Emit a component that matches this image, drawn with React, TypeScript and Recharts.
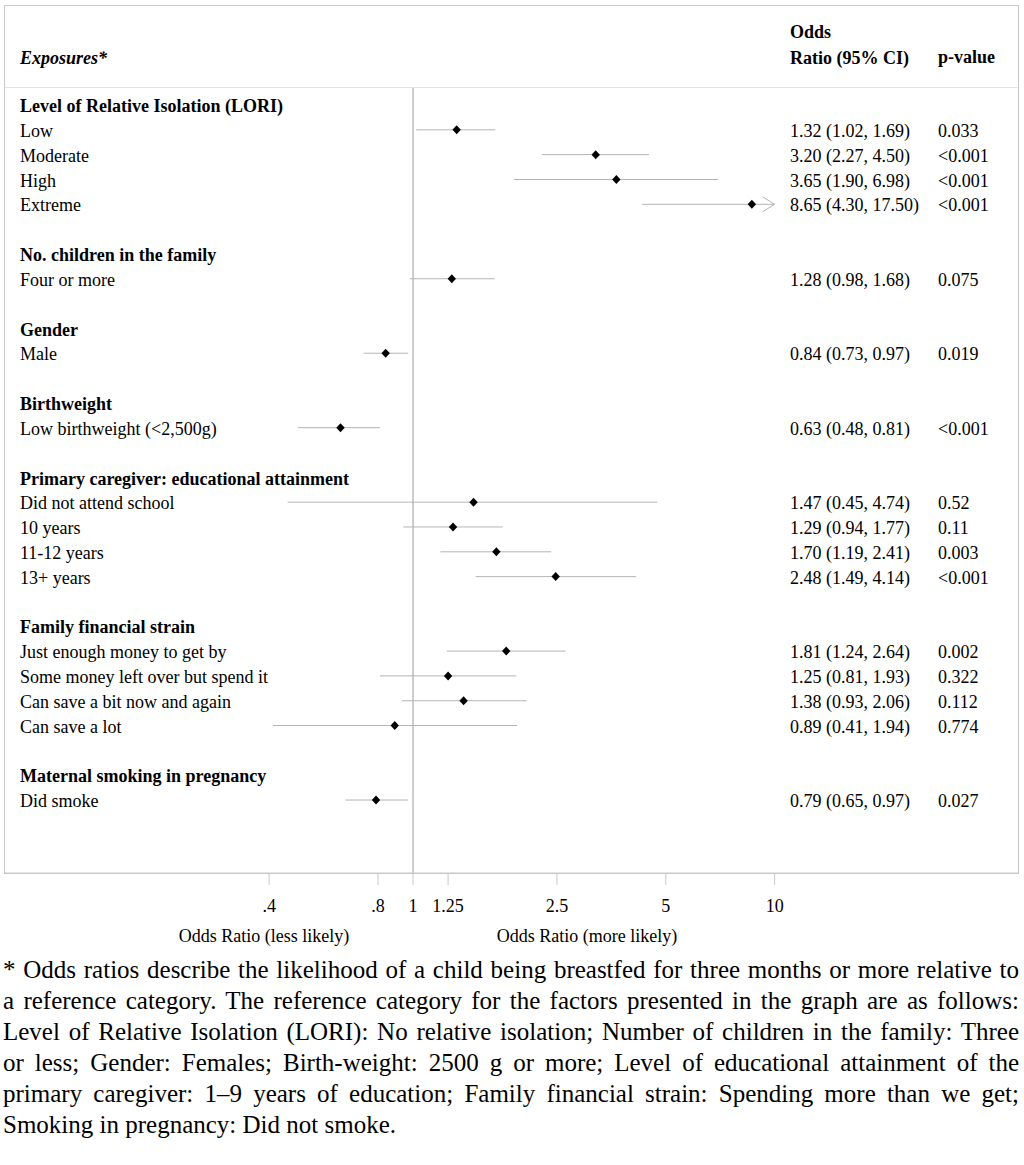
import React from 'react';
import { ComposedChart, Scatter, XAxis, YAxis, ErrorBar, ReferenceLine } from 'recharts';

// ---------- data ----------
const rowLabels = [
  'Level of Relative Isolation (LORI)', 'Low', 'Moderate', 'High', 'Extreme', '',
  'No. children in the family', 'Four or more', '',
  'Gender', 'Male', '',
  'Birthweight', 'Low birthweight (<2,500g)', '',
  'Primary caregiver: educational attainment', 'Did not attend school', '10 years', '11-12 years', '13+ years', '',
  'Family financial strain', 'Just enough money to get by', 'Some money left over but spend it',
  'Can save a bit now and again', 'Can save a lot', '',
  'Maternal smoking in pregnancy', 'Did smoke',
];
const headerRows = [0, 6, 9, 12, 15, 21, 27];
const estimateRows = [1, 2, 3, 4, 7, 10, 13, 16, 17, 18, 19, 22, 23, 24, 25, 28];
const oddsRatios = [1.32, 3.2, 3.65, 8.65, 1.28, 0.84, 0.63, 1.47, 1.29, 1.7, 2.48, 1.81, 1.25, 1.38, 0.89, 0.79];
const ciLower = [1.02, 2.27, 1.9, 4.3, 0.98, 0.73, 0.48, 0.45, 0.94, 1.19, 1.49, 1.24, 0.81, 0.93, 0.41, 0.65];
const ciUpper = [1.69, 4.5, 6.98, 17.5, 1.68, 0.97, 0.81, 4.74, 1.77, 2.41, 4.14, 2.64, 1.93, 2.06, 1.94, 0.97];
const pValues = ['0.033', '<0.001', '<0.001', '<0.001', '0.075', '0.019', '<0.001', '0.52', '0.11', '0.003', '<0.001', '0.002', '0.322', '0.112', '0.774', '0.027'];
const xTicks = [0.4, 0.8, 1, 1.25, 2.5, 5, 10];
const xTickLabels = ['.4', '.8', '1', '1.25', '2.5', '5', '10'];
const xDomain = [0.0744, 47.1];
const ciDisplayMax = 10;
const yDomain = [-0.685, 30.94];

const footnoteLines = [
  '* Odds ratios describe the likelihood of a child being breastfed for three months or more relative to',
  'a reference category. The reference category for the factors presented in the graph are as follows:',
  'Level of Relative Isolation (LORI): No relative isolation; Number of children in the family: Three',
  'or less; Gender: Females; Birth-weight: 2500 g or more; Level of educational attainment of the',
  'primary caregiver: 1–9 years of education; Family financial strain: Spending more than we get;',
  'Smoking in pregnancy: Did not smoke.',
];

// ---------- derived ----------
const pointData = estimateRows.map((row, i) => ({
  row,
  or: oddsRatios[i],
  err: [oddsRatios[i] - ciLower[i], Math.min(ciUpper[i], ciDisplayMax) - oddsRatios[i]],
}));
const arrowData = estimateRows
  .map((row, i) => ({ row, or: ciDisplayMax, hi: ciUpper[i] }))
  .filter((d) => d.hi > ciDisplayMax)
  .map(({ row, or }) => ({ row, or }));
const allRows = rowLabels.map((_, i) => i);

const FONT = "'Liberation Serif', 'Times New Roman', serif";
const GRID = '#c8c8c8';
const CI = '#b4b4b4';

const fmt = (v: number) => v.toFixed(2);

const RowTick = (props: any) => {
  const { y, payload } = props;
  const row = Math.round(Number(payload?.value));
  const label = rowLabels[row];
  const isHeader = headerRows.includes(row);
  const k = estimateRows.indexOf(row);
  return (
    <g>
      {label ? (
        <text x={20} y={y} dy="0.4em" fontFamily={FONT} fontSize={18} fontWeight={isHeader ? 'bold' : 'normal'} fill="#000" textAnchor="start">
          {label}
        </text>
      ) : null}
      {k >= 0 ? (
        <text x={790} y={y} dy="0.4em" fontFamily={FONT} fontSize={18} fill="#000" textAnchor="start">
          {`${fmt(oddsRatios[k])} (${fmt(ciLower[k])}, ${fmt(ciUpper[k])})`}
        </text>
      ) : null}
      {k >= 0 ? (
        <text x={938} y={y} dy="0.4em" fontFamily={FONT} fontSize={18} fill="#000" textAnchor="start">
          {pValues[k]}
        </text>
      ) : null}
    </g>
  );
};

const Diamond = (props: any) => {
  const { cx, cy } = props;
  return <path d={`M${cx},${cy - 4.5}L${cx + 4.2},${cy}L${cx},${cy + 4.5}L${cx - 4.2},${cy}Z`} fill="#000" />;
};

const Chevron = (props: any) => {
  const { cx, cy } = props;
  return <path d={`M${cx - 12},${cy - 7.5}L${cx},${cy}L${cx - 12},${cy + 7.5}`} fill="none" stroke={CI} strokeWidth={1} />;
};

export default function App() {
  return (
    <div style={{ position: 'absolute', left: 0, top: 0, width: 1024, height: 1165, background: '#fff', fontFamily: FONT }}>
      {/* frame */}
      <div style={{ position: 'absolute', left: 4, top: 5, width: 1015, height: 869, border: `1px solid ${GRID}`, boxSizing: 'border-box' }} />
      <div style={{ position: 'absolute', left: 5, top: 87, width: 1013, height: 1, background: '#e2e2e2' }} />

      {/* header */}
      <div style={{ position: 'absolute', left: 20, top: 47, fontFamily: FONT, fontSize: 18, fontWeight: 'bold', fontStyle: 'italic', lineHeight: '22px' }}>Exposures*</div>
      <div style={{ position: 'absolute', left: 790, top: 19, fontFamily: FONT, fontSize: 18, fontWeight: 'bold', lineHeight: '26px' }}>
        Odds
        <br />
        Ratio (95% CI)
      </div>
      <div style={{ position: 'absolute', left: 938, top: 46, fontFamily: FONT, fontSize: 18, fontWeight: 'bold', lineHeight: '22px' }}>p-value</div>

      <div style={{ position: 'absolute', left: 0, top: 0 }}>
        <ComposedChart width={1024} height={950} margin={{ top: 88, right: 6, bottom: 0, left: 4 }}>
          <XAxis
            type="number"
            dataKey="or"
            scale="log"
            domain={xDomain}
            allowDataOverflow
            ticks={xTicks}
            interval={0}
            tickFormatter={(v: number) => xTickLabels[xTicks.indexOf(v)] ?? String(v)}
            height={77}
            tickSize={12}
            tickMargin={14}
            axisLine={{ stroke: GRID }}
            tickLine={{ stroke: GRID }}
            tick={{ fill: '#000', fontSize: 18, fontFamily: FONT }}
          />
          <YAxis
            type="number"
            dataKey="row"
            domain={yDomain}
            reversed
            allowDataOverflow
            ticks={allRows}
            interval={0}
            width={1}
            axisLine={false}
            tickLine={false}
            tick={RowTick}
          />
          <ReferenceLine x={1} stroke="#bdbdbd" strokeWidth={1.5} />
          <Scatter data={pointData} isAnimationActive={false} shape={<Diamond />}>
            <ErrorBar dataKey="err" direction="x" width={0} stroke={CI} strokeWidth={1} />
          </Scatter>
          <Scatter data={arrowData} isAnimationActive={false} shape={<Chevron />} />
        </ComposedChart>
      </div>

      {/* axis titles */}
      <div style={{ position: 'absolute', left: 264, top: 925, transform: 'translateX(-50%)', fontFamily: FONT, fontSize: 18, whiteSpace: 'nowrap', lineHeight: '22px' }}>
        Odds Ratio (less likely)
      </div>
      <div style={{ position: 'absolute', left: 587, top: 925, transform: 'translateX(-50%)', fontFamily: FONT, fontSize: 18, whiteSpace: 'nowrap', lineHeight: '22px' }}>
        Odds Ratio (more likely)
      </div>

      {/* footnote */}
      <div style={{ position: 'absolute', left: 3, top: 954, width: 1016, fontFamily: FONT, fontSize: 25, lineHeight: '31px', color: '#000' }}>
        {footnoteLines.map((line, i) => (
          <div
            key={i}
            style={{
              fontFamily: FONT,
              textAlign: i < footnoteLines.length - 1 ? 'justify' : 'left',
              textAlignLast: i < footnoteLines.length - 1 ? 'justify' : 'left',
              whiteSpace: 'nowrap',
            }}
          >
            {line}
          </div>
        ))}
      </div>
    </div>
  );
}
